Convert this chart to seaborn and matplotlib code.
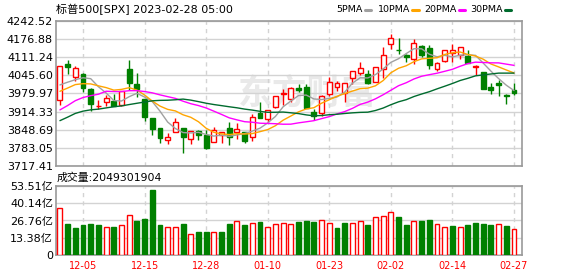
import numpy as np
import pandas as pd
import matplotlib
matplotlib.use("Agg")
import matplotlib.pyplot as plt
import seaborn as sns
from matplotlib.lines import Line2D

# ---------------- data ----------------
dates = ["11-30", "12-01", "12-02", "12-05", "12-06", "12-07", "12-08", "12-09",
         "12-12", "12-13", "12-14", "12-15", "12-16", "12-19", "12-20", "12-21",
         "12-22", "12-23", "12-27", "12-28", "12-29", "12-30", "01-03", "01-04",
         "01-05", "01-06", "01-09", "01-10", "01-11", "01-12", "01-13", "01-17",
         "01-18", "01-19", "01-20", "01-23", "01-24", "01-25", "01-26", "01-27",
         "01-30", "01-31", "02-01", "02-02", "02-03", "02-06", "02-07", "02-08",
         "02-09", "02-10", "02-13", "02-14", "02-15", "02-16", "02-17", "02-21",
         "02-22", "02-23", "02-24", "02-27"]

opens = [3957.18, 4087.14, 4040.17, 4052.02, 3996.63, 3933.28, 3947.79, 3954.17,
         3939.29, 4069.38, 4015.54, 3958.37, 3890.91, 3853.79, 3810.47, 3839.49,
         3853.26, 3815.11, 3843.34, 3829.56, 3805.45, 3829.06, 3853.29, 3840.36,
         3839.74, 3823.37, 3910.82, 3888.57, 3932.35, 3977.57, 3960.60, 3999.28,
         4002.25, 3911.84, 3909.04, 3978.14, 4001.74, 3982.71, 4036.08, 4053.72,
         4049.27, 4020.85, 4070.07, 4158.68, 4136.69, 4119.57, 4105.35, 4153.47,
         4144.25, 4068.92, 4096.62, 4126.70, 4119.50, 4114.75, 4077.39, 4056.48,
         4001.83, 4018.60, 3973.24, 3992.36]
highs = [4080.11, 4100.51, 4080.48, 4052.45, 4001.51, 3957.57, 3974.19, 3977.02,
         3990.71, 4100.96, 4053.76, 3958.37, 3890.91, 3854.86, 3838.24, 3889.82,
         3853.26, 3845.80, 3846.65, 3848.32, 3858.19, 3839.85, 3878.46, 3873.16,
         3839.74, 3906.19, 3950.57, 3919.83, 3970.07, 3997.76, 4003.95, 4015.39,
         4014.16, 3922.94, 3972.96, 4039.31, 4023.92, 4019.55, 4061.57, 4094.21,
         4063.85, 4077.16, 4148.95, 4195.44, 4182.36, 4124.63, 4176.54, 4156.85,
         4156.23, 4094.36, 4138.90, 4159.77, 4148.11, 4136.54, 4081.51, 4056.48,
         4017.37, 4028.30, 3978.25, 4018.05]
lows = [3938.58, 4050.87, 4026.63, 3984.49, 3918.39, 3922.68, 3935.83, 3933.04,
        3935.30, 3993.03, 3965.65, 3879.45, 3827.91, 3800.04, 3795.62, 3839.49,
        3764.49, 3797.01, 3813.22, 3780.78, 3805.45, 3800.34, 3794.33, 3815.77,
        3802.42, 3809.56, 3890.42, 3877.29, 3928.54, 3937.56, 3947.67, 3984.57,
        3926.59, 3885.54, 3897.86, 3971.64, 3989.79, 3949.06, 4013.29, 4048.70,
        4015.55, 4020.44, 4037.20, 4141.88, 4123.36, 4093.38, 4088.39, 4111.67,
        4069.67, 4060.79, 4092.67, 4095.01, 4103.98, 4089.49, 4047.95, 3995.66,
        3976.90, 3969.19, 3943.08, 3973.55]
closes = [4080.11, 4076.57, 4071.70, 3998.84, 3941.26, 3933.92, 3963.51, 3934.38,
          3990.56, 4019.65, 3995.32, 3895.75, 3852.36, 3817.66, 3821.62, 3878.44,
          3822.39, 3844.82, 3829.25, 3783.22, 3849.28, 3839.50, 3824.14, 3852.97,
          3808.10, 3895.08, 3892.09, 3919.25, 3969.61, 3983.17, 3999.09, 3990.97,
          3928.86, 3898.85, 3972.61, 4019.81, 4016.95, 4016.22, 4060.43, 4070.56,
          4017.77, 4076.60, 4119.21, 4179.76, 4136.48, 4111.08, 4164.00, 4117.86,
          4081.50, 4090.46, 4137.29, 4136.13, 4147.60, 4090.41, 4079.09, 3997.34,
          3991.05, 4012.32, 3970.04, 3982.24]
# closes of the 29 sessions before the first candle (feed the moving averages)
prior_closes = [3695.16, 3665.78, 3752.75, 3797.34, 3859.11, 3830.60, 3807.30,
                3901.06, 3871.98, 3856.10, 3759.69, 3719.89, 3770.55, 3806.80,
                3828.11, 3748.57, 3956.37, 3992.93, 3957.25, 3991.73, 3958.79,
                3946.56, 3965.34, 3949.94, 4003.58, 4027.26, 4026.12, 3963.94,
                3957.63]
volumes = [36.8, 23.9, 20.8, 23.2, 23.9, 23.2, 22.1, 21.6, 22.9, 31.4,
           26.3, 27.8, 50.2, 23.2, 22.1, 22.1, 23.9, 16.0, 17.8, 17.8,
           17.5, 17.8, 23.9, 26.0, 23.2, 25.2, 25.5, 21.4, 23.7, 25.2,
           23.7, 25.5, 26.3, 25.5, 26.8, 25.2, 20.8, 24.7, 24.5, 26.0,
           23.2, 29.1, 29.9, 33.7, 29.3, 23.2, 26.0, 26.3, 27.0, 23.7,
           21.4, 22.4, 21.4, 23.2, 24.7, 23.9, 23.2, 23.7, 22.4, 20.49]
tick_labels = ["12-05", "12-15", "12-28", "01-10", "01-23", "02-02", "02-14", "02-27"]
price_ticks = [3717.41, 3783.05, 3848.69, 3914.33, 3979.97, 4045.60, 4111.24, 4176.88, 4242.52]
vol_ticks = [0, 13.38, 26.76, 40.14, 53.51]
vol_tick_labels = ["0", "13.38亿", "26.76亿", "40.14亿", "53.51亿"]
ma_periods = [5, 10, 20, 30]
ma_names = ["5PMA", "10PMA", "20PMA", "30PMA"]
title = "标普500[SPX] 2023-02-28 05:00"
vol_title = "成交量:2049301904"

# ---------------- style ----------------
sns.set_theme(style="white")
plt.rcParams["font.family"] = ["DejaVu Sans", "Noto Sans CJK SC"]

RED = "#FF0000"
GREEN = "#008000"
MA_COLORS = ["#A0A0A0", "#FFA500", "#FF00FF", "#006B2E"]
GRID = "#D3D3D3"
SPINE = "#999999"

W, H = 578, 276
fig = plt.figure(figsize=(W / 100, H / 100), dpi=100)
fig.patch.set_facecolor("white")

L, R = 56, 522
ax = fig.add_axes([L / W, 1 - 166 / H, (R - L) / W, 145 / H])
axv = fig.add_axes([L / W, 1 - 255 / H, (R - L) / W, 69 / H])

df = pd.DataFrame({"date": dates, "open": opens, "high": highs,
                   "low": lows, "close": closes, "vol": volumes})
df["x"] = np.arange(len(df))
x = df["x"].values
o = df["open"].values
c = df["close"].values
up = c >= o
body_lo = np.minimum(o, c)
body_hi = np.maximum(o, c)
ccol = np.where(up, RED, GREEN)
BW = 0.64

# watermark
ax.text(0.54, 0.50, "东方财富", transform=ax.transAxes, fontsize=25,
        color="#E9E9E9", ha="center", va="center", zorder=0,
        family=["Noto Sans CJK SC"], fontweight="bold")

# wicks
ax.vlines(x, df["low"], df["high"], colors=ccol, lw=1, zorder=3)
# bodies
ax.bar(x, np.maximum(body_hi - body_lo, 0.6), bottom=body_lo, width=BW,
       facecolor=np.where(up, "white", GREEN), edgecolor=ccol, lw=1, zorder=4)

# moving averages
allc = pd.Series(prior_closes + closes)
n_prior = len(prior_closes)
for p, name, col in zip(ma_periods, ma_names, MA_COLORS):
    ma = allc.rolling(p).mean().iloc[n_prior:].values
    sns.lineplot(x=x, y=ma, ax=ax, color=col, lw=1, zorder=5, legend=False)

tick_pos = [dates.index(t) for t in tick_labels]

for a in (ax, axv):
    a.set_xlim(-0.51, 60.04)
    a.set_xticks(tick_pos)
    a.xaxis.grid(True, color=GRID, ls=(0, (3, 3)), lw=1)
    a.yaxis.grid(True, color=GRID, ls="-", lw=1)
    a.set_axisbelow(True)
    for s in a.spines.values():
        s.set_color(SPINE)
        s.set_linewidth(1.2)
        s.set_visible(True)
    a.tick_params(length=0)
    a.set_xlabel("")
    a.set_ylabel("")

ax.set_ylim(price_ticks[0], price_ticks[-1])
ax.set_yticks(price_ticks)
ax.set_yticklabels([f"{v:.2f}" for v in price_ticks], fontsize=8, color="#000000")
ax.set_xticklabels([])
ax.tick_params(axis="y", pad=2.2)

# volume
vup = np.array(closes) >= np.array([prior_closes[-1]] + closes[:-1])
vcol = np.where(vup, RED, GREEN)
axv.bar(x, df["vol"], width=BW, facecolor=np.where(vup, "white", GREEN),
        edgecolor=vcol, lw=1, zorder=3)
axv.set_ylim(0, 53.51)
axv.set_yticks(vol_ticks)
axv.set_yticklabels(vol_tick_labels, fontsize=8, color="#000000")
axv.set_xticklabels(tick_labels, fontsize=7, color=RED)
axv.tick_params(axis="y", pad=2.2)
axv.tick_params(axis="x", pad=4.5)

# texts
fig.text(L / W, 1 - 9 / H, title, fontsize=8, ha="left", va="center", color="#000000")
fig.text(57 / W, 1 - 177.5 / H, vol_title, fontsize=7.8, ha="left", va="center", color="#000000")

line_x = [(365, 371), (412, 419), (459, 465), (505, 511)]
for name, col, (lx0, lx1) in zip(ma_names, MA_COLORS, line_x):
    fig.text((lx0 - 2) / W, 1 - 9 / H, name, fontsize=6.8, ha="right", va="center",
             color="#000000")
    fig.add_artist(Line2D([lx0 / W, lx1 / W], [1 - 9.5 / H, 1 - 9.5 / H],
                          transform=fig.transFigure, color=col, lw=2.2))

fig.savefig("out.png", dpi=100, facecolor="white")
